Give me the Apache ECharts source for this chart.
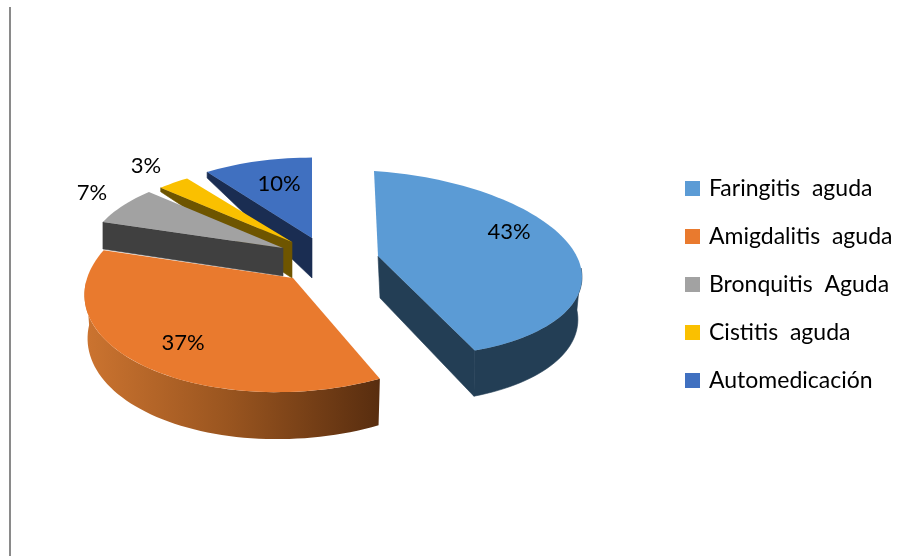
<!DOCTYPE html>
<html>
<head>
<meta charset="utf-8">
<style>html,body{margin:0;padding:0;background:#fff}#c{width:912px;height:556px}</style>
<script src="https://cdn.jsdelivr.net/npm/echarts@6/dist/echarts.min.js"></script>
</head>
<body>
<div id="c"></div>
<script>
// Diagnoses and their shares
const categories = ['Faringitis  aguda', 'Amigdalitis  aguda', 'Bronquitis  Aguda', 'Cistitis  aguda', 'Automedicación'];
const shares = [43, 37, 7, 3, 10];
const topColors = ['#5B9BD5', '#E97A2E', '#A2A2A2', '#FAC000', '#4070C0'];
const cutColors = ['#233E55', '#5A2D0F', '#404040', '#6E5500', '#1A2D52'];
const paintOrder = [5, 4, 3, 2, 1];

// Exploded, tilted wedge geometry per slice:
// apex = pivot on screen, R = radius, k = tilt squash, s/t = skew,
// d0/d1 = wall height at centre and its growth toward the viewer,
// rimCut = height of the visible cut at the far rim, bx/bs = shift and scale of the base,
// label = text offset from the apex
const FONT = 'Lato';
const PERSPECTIVE = 0.08;
const layout = [
  { apex: [378, 256], R: 203, k: 0.452, s: 12, t: 4, d0: 42, d1: 4, bx: 2, bs: 0.97, label: [131, -24] },
  { apex: [293, 278], R: 207, k: 0.507, s: -4, t: -9, d0: 43, d1: 4, bx: 0, bs: 0.985, label: [-110, 65] },
  { apex: [283, 248], R: 194, k: 0.444, s: 0, t: 0, d0: 28, d1: 0, bx: 0, bs: 1, rimCut: 27, label: [-191, -55] },
  { apex: [292, 242], R: 190, k: 0.44, s: 0, t: 0, d0: 36, d1: 0, bx: 0, bs: 1, rimCut: 4, label: [-146, -76] },
  { apex: [312, 238], R: 190, k: 0.457, s: 0, t: 0, d0: 40, d1: 0, bx: 0, bs: 1, rimCut: 6, label: [-33, -54] }
];

const total = shares.reduce((a, b) => a + b, 0);
const starts = shares.map((_, i) => shares.slice(0, i).reduce((a, b) => a + b, 0) / total * 360);

// Projects a polar point of the disc (degrees clockwise from north) onto the screen
function project(g, deg, base) {
  const a = deg * Math.PI / 180;
  const u = Math.sin(a), v = -Math.cos(a), w = 1 - PERSPECTIVE * v;
  const x = g.R * u / w + g.t * v;
  const y = g.R * g.k * v / w + g.s * u;
  if (!base) return [g.apex[0] + x, g.apex[1] + y];
  return [g.apex[0] + g.bx + x * g.bs, g.apex[1] + y + g.d0 + g.d1 * v];
}

function arc(g, from, to, base) {
  const pts = [];
  const n = Math.max(2, Math.ceil(Math.abs(to - from) / 2));
  for (let i = 0; i <= n; i++) pts.push(project(g, from + (to - from) * i / n, base));
  return pts;
}

function renderSlice(i) {
  return function (params, api) {
    const g = layout[i];
    const from = starts[i];
    const to = from + api.value(0) / total * 360;
    const children = [];
    const apexBase = [g.apex[0] + g.bx, g.apex[1] + g.d0];

    // Cut faces that turn toward the viewer
    const cut = (deg) => {
      const rim = project(g, deg, false);
      const rimBase = g.rimCut !== undefined ? [rim[0], rim[1] + g.rimCut] : project(g, deg, true);
      children.push({
        type: 'polygon',
        shape: { points: [g.apex, rim, rimBase, apexBase] },
        style: { fill: cutColors[i], stroke: cutColors[i], lineWidth: 0.6 }
      });
    };
    if (from > 180) cut(from);
    if (to < 180) cut(to);

    // Outer wall on the front half of the rim
    const wallFrom = Math.max(from, 90), wallTo = Math.min(to, 270);
    if (wallTo > wallFrom) {
      const wall = arc(g, wallFrom, wallTo, false).concat(arc(g, wallTo, wallFrom, true));
      const isShaded = i === 1;
      const fill = isShaded
        ? new echarts.graphic.LinearGradient(0, 0, 1, 0, [
            { offset: 0, color: '#CC7430' },
            { offset: 0.5, color: '#98541F' },
            { offset: 1, color: '#582D0F' }
          ])
        : cutColors[i];
      children.push({
        type: 'polygon',
        shape: { points: wall },
        style: isShaded ? { fill: fill } : { fill: fill, stroke: fill, lineWidth: 0.6 }
      });
    }

    // Top face
    children.push({
      type: 'polygon',
      shape: { points: [g.apex].concat(arc(g, from, to, false)) },
      style: { fill: topColors[i] }
    });

    // Percentage label
    children.push({
      type: 'text',
      x: g.apex[0] + g.label[0],
      y: g.apex[1] + g.label[1],
      style: {
        text: api.value(0) + '%',
        fill: '#000',
        font: '22px ' + FONT,
        textAlign: 'center',
        textVerticalAlign: 'middle'
      }
    });
    return { type: 'group', children: children };
  };
}

const chart = echarts.init(document.getElementById('c'), null, { renderer: 'canvas' });
chart.setOption({
  animation: false,
  backgroundColor: '#fff',
  legend: {
    orient: 'vertical',
    left: 680,
    top: 170,
    itemWidth: 15,
    itemHeight: 15,
    itemGap: 21,
    icon: 'rect',
    textStyle: { fontFamily: FONT, fontSize: 23, color: '#000', padding: [3, 0, 0, 4], lineHeight: 24 },
    data: categories
  },
  graphic: [{
    type: 'line',
    shape: { x1: 10, y1: 7, x2: 10, y2: 556 },
    style: { stroke: '#8A8A8A', lineWidth: 2 }
  }],
  series: categories.map((name, i) => ({
    type: 'custom',
    name: name,
    z: paintOrder[i],
    coordinateSystem: 'none',
    silent: true,
    itemStyle: { color: topColors[i] },
    renderItem: renderSlice(i),
    data: [[shares[i]]]
  }))
});
</script>
</body>
</html>
